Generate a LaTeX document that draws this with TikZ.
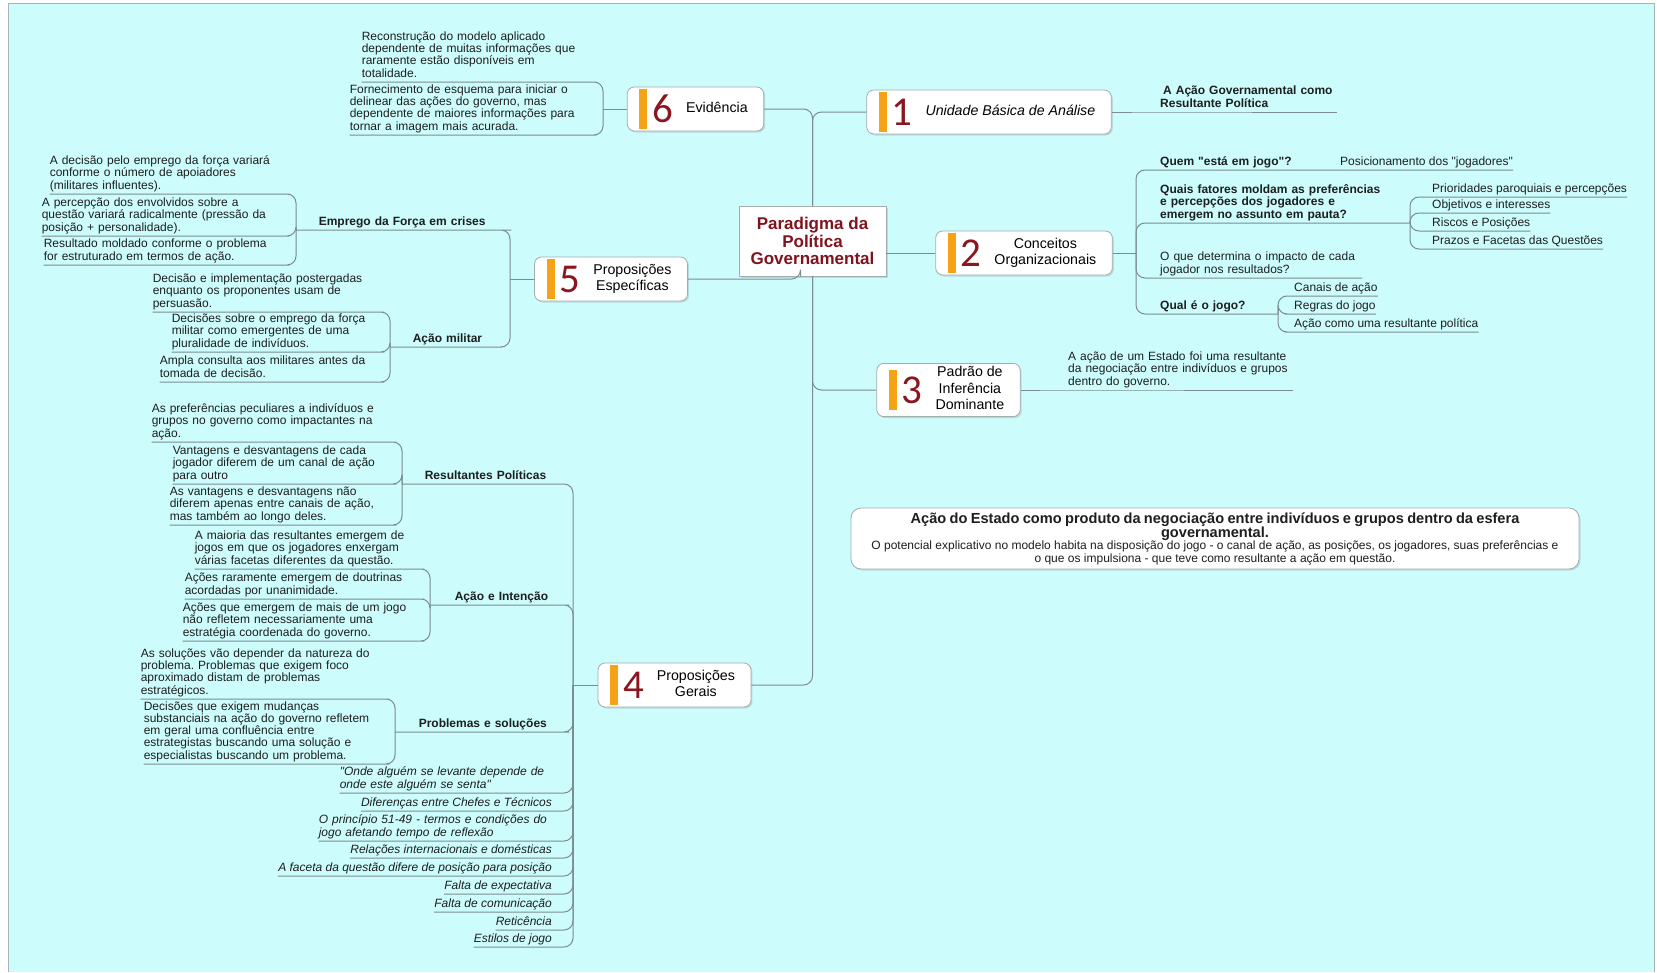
\documentclass[tikz,border=0pt]{standalone}
\usepackage{fontspec}
\setmainfont{Liberation Sans}
\newfontfamily\numfont{Carlito}
\usetikzlibrary{shadows}
\frenchspacing

\definecolor{bgColor}{RGB}{204,252,252}
\definecolor{frameColor}{RGB}{170,180,180}
\definecolor{lineColor}{RGB}{125,140,145}
\definecolor{boxColor}{RGB}{165,172,172}
\definecolor{barColor}{RGB}{246,162,22}
\definecolor{numColor}{RGB}{140,22,32}
\definecolor{titleColor}{RGB}{128,20,30}
\definecolor{textColor}{RGB}{30,30,30}

\newcommand{\leaffont}{\fontsize{12}{12.2}\selectfont}
\newcommand{\keyfont}{\fontsize{12}{12.2}\selectfont\bfseries}
\newcommand{\itemfont}{\fontsize{12}{12.2}\selectfont\itshape}
\newcommand{\vmid}[1]{$\vcenter{\hbox{#1}}$}
\newcommand{\topic}[2]{\kern12pt\vmid{\color{barColor}\rule{8pt}{40pt}}\kern5pt\vmid{\color{numColor}\fontsize{41}{41}\numfont #1}\kern13pt\vmid{\begin{tabular}{@{}c@{}}#2\end{tabular}}\kern16pt}

\tikzset{
  topicbox/.style={draw=boxColor, line width=0.8pt, fill=white, rounded corners=7pt, inner xsep=0pt, inner ysep=2pt, minimum height=44pt, font=\fontsize{14.2}{16.4}\selectfont, drop shadow={shadow xshift=1.5pt, shadow yshift=-1.5pt, opacity=0.25}},
  conn/.style={draw=lineColor, line width=1pt, rounded corners=9pt, line join=round},
  leafL/.style={anchor=south east, align=left, inner xsep=0pt, inner ysep=1pt, font=\leaffont, text=textColor, execute at end node=\strut},
  leafR/.style={leafL, anchor=south west},
  keyL/.style={leafL, font=\keyfont},
  keyR/.style={leafR, font=\keyfont},
  itemL/.style={leafL, font=\itemfont},
}

\begin{document}
\begin{tikzpicture}[x=1pt,y=-1pt]
\useasboundingbox (0,0) rectangle (1657,972);
\fill[white] (0,0) rectangle (1657,972);
\fill[bgColor] (8,3) rectangle (1654,972);
\draw[frameColor, line width=0.8pt] (8,972) -- (8,3) -- (1654,3) -- (1654,972);

% central topic and main branches
\node[draw=boxColor, fill=white, line width=0.8pt, minimum width=147pt, minimum height=70pt, align=center, font=\fontsize{17}{17.2}\selectfont\bfseries, text=titleColor, drop shadow={shadow xshift=1.5pt, shadow yshift=-1.5pt, opacity=0.25}] (para) at (812.5,241) {Paradigma da\\Política\\Governamental};

\node[topicbox] (evid) at (695.5,109) {\topic{6}{Evidência}};
\node[topicbox] (unid) at (989,112) {\topic{1}{\itshape Unidade Básica de Análise}};
\node[topicbox] (conc) at (1024,253) {\topic{2}{Conceitos\\Organizacionais}};
\node[topicbox] (infer) at (948.5,390) {\topic{3}{Padrão de\\Inferência\\Dominante}};
\node[topicbox] (gerais) at (674.5,685) {\topic{4}{Proposições\\Gerais}};
\node[topicbox] (espec) at (611,279) {\topic{5}{Proposições\\Específicas}};

\draw[conn] (para.north) |- (unid.west);
\draw[conn] (para.north) |- (evid.east);
\draw[conn] (para.east |- conc.west) -- (conc.west);
\draw[conn] (para.south) |- (infer.west);
\draw[conn] (para.south) |- (gerais.east);
\draw[conn] (espec.east) -| ([xshift=-12pt]para.south);

% junctions
\coordinate (jEvid) at (603,109);
\coordinate (jConc) at (1136,253);
\coordinate (jEspec) at (510,279);
\coordinate (jGerais) at (573,685);
\coordinate (jEmprego) at (296,230);
\coordinate (jMilitar) at (390,347);
\coordinate (jResult) at (402,484);
\coordinate (jIntencao) at (430,605);
\coordinate (jProblemas) at (395,732);
\coordinate (jFatores) at (1410,223);
\coordinate (jJogo) at (1278,314);

% 6 Evidencia
\node[leafL, text width=225pt] (reconst) at (587,82) {Reconstrução do modelo aplicado\\dependente de muitas informações que\\raramente estão disponíveis em\\totalidade.};
\node[leafL, text width=237pt] (fornec) at (587,135) {Fornecimento de esquema para iniciar o\\delinear das ações do governo, mas\\dependente de maiores informações para\\tornar a imagem mais acurada.};
\draw[conn] (evid.west) -- (jEvid);
\draw[conn] (jEvid) |- (reconst.south east) -- (reconst.south west);
\draw[conn] (jEvid) |- (fornec.south east) -- (fornec.south west);

% 1 Unidade
\node[keyR, text width=177pt] (acao) at (1160,112) {\hspace{3pt}A Ação Governamental como\\Resultante Política};
\draw[conn] (unid.east) -- (acao.south west) -- (acao.south east);

% 2 Conceitos
\draw[conn] (conc.east) -- (jConc);
\node[keyR, text width=175pt] (quem) at (1160,170) {Quem \textquotedbl está em jogo\textquotedbl ?};
\node[leafR] (posic) at (1340,170) {Posicionamento dos \textquotedbl jogadores\textquotedbl};
\draw[conn] (jConc) |- (quem.south west) -- (posic.south east);

\node[keyR, text width=240pt] (fatores) at (1160,223) {Quais fatores moldam as preferências\\e percepções dos jogadores e\\emergem no assunto em pauta?};
\draw[conn] (jConc) |- (fatores.south west) -- (jFatores);
\node[leafR] (priorid) at (1432,197) {Prioridades paroquiais e percepções};
\node[leafR] (objet) at (1432,213) {Objetivos e interesses};
\node[leafR] (riscos) at (1432,231) {Riscos e Posições};
\node[leafR] (prazos) at (1432,249) {Prazos e Facetas das Questões};
\draw[conn] (jFatores) |- (priorid.south west) -- (priorid.south east);
\draw[conn] (jFatores) |- (objet.south west) -- (objet.south east);
\draw[conn] (jFatores) |- (riscos.south west) -- (riscos.south east);
\draw[conn] (jFatores) |- (prazos.south west) -- (prazos.south east);

\node[leafR, text width=202pt] (impacto) at (1160,278) {O que determina o impacto de cada\\jogador nos resultados?};
\draw[conn] (jConc) |- (impacto.south west) -- (impacto.south east);

\node[keyR, text width=110pt] (jogo) at (1160,314) {Qual é o jogo?};
\draw[conn] (jConc) |- (jogo.south west) -- (jJogo);
\node[leafR] (canais) at (1294,296) {Canais de ação};
\node[leafR] (regras) at (1294,314) {Regras do jogo};
\node[leafR] (resultante) at (1294,332) {Ação como uma resultante política};
\draw[conn] (jJogo) |- (canais.south west) -- (canais.south east);
\draw[conn] (jJogo) |- (regras.south west) -- (regras.south east);
\draw[conn] (jJogo) |- (resultante.south west) -- (resultante.south east);

% 3 Padrao de Inferencia
\node[leafR, text width=225pt] (estado) at (1068,390) {A ação de um Estado foi uma resultante\\da negociação entre indivíduos e grupos\\dentro do governo.};
\draw[conn] (infer.east) -- (estado.south west) -- (estado.south east);

% 5 Proposicoes Especificas
\draw[conn] (espec.west) -- (jEspec);
\node[keyL, text width=183pt] (emprego) at (502,230) {Emprego da Força em crises};
\draw[conn] (jEspec) |- (emprego.south east) -- (jEmprego);
\node[leafL, text width=230pt] (apoiad) at (280,194) {A decisão pelo emprego da força variará\\conforme o número de apoiadores\\(militares influentes).};
\node[leafL, text width=238pt] (percep) at (280,236) {A percepção dos envolvidos sobre a\\questão variará radicalmente (pressão da\\posição + personalidade).};
\node[leafL, text width=236pt] (moldado) at (280,265) {Resultado moldado conforme o problema\\for estruturado em termos de ação.};
\draw[conn] (jEmprego) |- (apoiad.south east) -- (apoiad.south west);
\draw[conn] (jEmprego) |- (percep.south east) -- (percep.south west);
\draw[conn] (jEmprego) |- (moldado.south east) -- (moldado.south west);

\node[keyL, text width=80pt] (militar) at (493,347) {Ação militar};
\draw[conn] (jEspec) |- (militar.south east) -- (jMilitar);
\node[leafL, text width=222pt] (posterg) at (375,312) {Decisão e implementação postergadas\\enquanto os proponentes usam de\\persuasão.};
\node[leafL, text width=203pt] (emerg) at (375,352) {Decisões sobre o emprego da força\\militar como emergentes de uma\\pluralidade de indivíduos.};
\node[leafL, text width=215pt] (consulta) at (375,382) {Ampla consulta aos militares antes da\\tomada de decisão.};
\draw[conn] (jMilitar) |- (posterg.south east) -- (posterg.south west);
\draw[conn] (jMilitar) |- (emerg.south east) -- (emerg.south west);
\draw[conn] (jMilitar) |- (consulta.south east) -- (consulta.south west);

% 4 Proposicoes Gerais
\draw[conn] (gerais.west) -- (jGerais);
\node[keyL, text width=130pt] (result) at (555,484) {Resultantes Políticas};
\draw[conn] (jGerais) |- (result.south east) -- (jResult);
\node[leafL, text width=235pt] (pecul) at (387,442) {As preferências peculiares a indivíduos e\\grupos no governo como impactantes na\\ação.};
\node[leafL, text width=214pt] (vantag) at (387,484) {Vantagens e desvantagens de cada\\jogador diferem de um canal de ação\\para outro};
\node[leafL, text width=217pt] (longo) at (387,525) {As vantagens e desvantagens não\\diferem apenas entre canais de ação,\\mas também ao longo deles.};
\draw[conn] (jResult) |- (pecul.south east) -- (pecul.south west);
\draw[conn] (jResult) |- (vantag.south east) -- (vantag.south west);
\draw[conn] (jResult) |- (longo.south east) -- (longo.south west);

\node[keyL, text width=105pt] (intencao) at (560,605) {Ação e Intenção};
\draw[conn] (jGerais) |- (intencao.south east) -- (jIntencao);
\node[leafL, text width=220pt] (maioria) at (415,569) {A maioria das resultantes emergem de\\jogos em que os jogadores enxergam\\várias facetas diferentes da questão.};
\node[leafL, text width=230pt] (doutrin) at (415,599) {Ações raramente emergem de doutrinas\\acordadas por unanimidade.};
\node[leafL, text width=232pt] (maisjogo) at (415,641) {Ações que emergem de mais de um jogo\\não refletem necessariamente uma\\estratégia coordenada do governo.};
\draw[conn] (jIntencao) |- (maioria.south east) -- (maioria.south west);
\draw[conn] (jIntencao) |- (doutrin.south east) -- (doutrin.south west);
\draw[conn] (jIntencao) |- (maisjogo.south east) -- (maisjogo.south west);

\node[keyL, text width=141pt] (problemas) at (560,732) {Problemas e soluções};
\draw[conn] (jGerais) |- (problemas.south east) -- (jProblemas);
\node[leafL, text width=239pt] (natureza) at (380,699) {As soluções vão depender da natureza do\\problema. Problemas que exigem foco\\aproximado distam de problemas\\estratégicos.};
\node[leafL, text width=236pt] (mudancas) at (380,764) {Decisões que exigem mudanças\\substanciais na ação do governo refletem\\em geral uma confluência entre\\estrategistas buscando uma solução e\\especialistas buscando um problema.};
\draw[conn] (jProblemas) |- (natureza.south east) -- (natureza.south west);
\draw[conn] (jProblemas) |- (mudancas.south east) -- (mudancas.south west);

\node[itemL, text width=212pt] (onde) at (552,793) {\textquotedbl Onde alguém se levante depende de\\onde este alguém se senta\textquotedbl};
\node[itemL] (chefes) at (552,811) {Diferenças entre Chefes e Técnicos};
\node[itemL, text width=233pt] (principio) at (552,841) {O princípio 51-49 - termos e condições do\\jogo afetando tempo de reflexão};
\node[itemL] (relacoes) at (552,858) {Relações internacionais e domésticas};
\node[itemL] (faceta) at (552,876) {A faceta da questão difere de posição para posição};
\node[itemL] (expect) at (552,894) {Falta de expectativa};
\node[itemL] (comunic) at (552,912) {Falta de comunicação};
\node[itemL] (retic) at (552,930) {Reticência};
\node[itemL] (estilos) at (552,947) {Estilos de jogo};
\draw[conn] (jGerais) |- (onde.south east) -- (onde.south west);
\draw[conn] (jGerais) |- (chefes.south east) -- (chefes.south west);
\draw[conn] (jGerais) |- (principio.south east) -- (principio.south west);
\draw[conn] (jGerais) |- (relacoes.south east) -- (relacoes.south west);
\draw[conn] (jGerais) |- (faceta.south east) -- (faceta.south west);
\draw[conn] (jGerais) |- (expect.south east) -- (expect.south west);
\draw[conn] (jGerais) |- (comunic.south east) -- (comunic.south west);
\draw[conn] (jGerais) |- (retic.south east) -- (retic.south west);
\draw[conn] (jGerais) |- (estilos.south east) -- (estilos.south west);

% floating summary
\node[draw=boxColor, fill=white, line width=0.8pt, rounded corners=10pt, minimum width=728pt, minimum height=61pt, text width=720pt, align=center, inner sep=3pt, text=textColor, drop shadow={shadow xshift=1.5pt, shadow yshift=-1.5pt, opacity=0.25}] (resumo) at (1215,538.5) {{\fontsize{14.6}{14.5}\selectfont\bfseries Ação do Estado como produto da negociação entre indivíduos e grupos dentro da esfera\\governamental.\par}{\fontsize{12}{12.2}\selectfont O potencial explicativo no modelo habita na disposição do jogo - o canal de ação, as posições, os jogadores, suas preferências e\\o que os impulsiona - que teve como resultante a ação em questão.\par}};
\end{tikzpicture}
\end{document}
